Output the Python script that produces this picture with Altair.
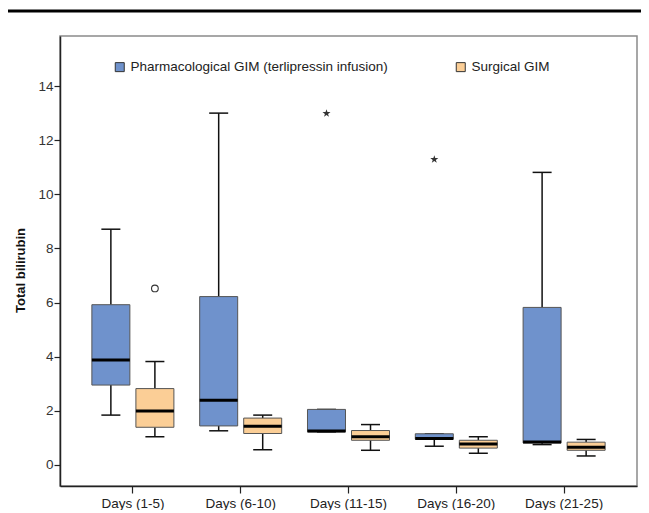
import altair as alt
import pandas as pd

days = ["Days (1-5)", "Days (6-10)", "Days (11-15)", "Days (16-20)", "Days (21-25)"]
groups = ["Pharmacological GIM (terlipressin infusion)", "Surgical GIM"]
colors = ["#6F92CC", "#FBCE96"]

pharm_low = [1.84, 1.26, 1.22, 0.69, 0.75]
pharm_q1 = [2.95, 1.44, 1.22, 0.95, 0.81]
pharm_med = [3.88, 2.39, 1.25, 0.98, 0.85]
pharm_q3 = [5.92, 6.22, 2.05, 1.15, 5.82]
pharm_high = [8.71, 13.0, 2.05, 1.15, 10.81]

surg_low = [1.04, 0.56, 0.54, 0.43, 0.33]
surg_q1 = [1.39, 1.16, 0.91, 0.62, 0.54]
surg_med = [1.99, 1.43, 1.04, 0.77, 0.65]
surg_q3 = [2.82, 1.73, 1.27, 0.91, 0.84]
surg_high = [3.82, 1.84, 1.49, 1.04, 0.94]

outlier_day = ["Days (1-5)"]
outlier_group = [groups[1]]
outlier_value = [6.52]

extreme_day = ["Days (11-15)", "Days (16-20)"]
extreme_group = [groups[0], groups[0]]
extreme_value = [12.99, 11.29]

y_ticks = [0, 2, 4, 6, 8, 10, 12, 14]

rows = []
for g, lo, a, m, b, hi in [
    (groups[0], pharm_low, pharm_q1, pharm_med, pharm_q3, pharm_high),
    (groups[1], surg_low, surg_q1, surg_med, surg_q3, surg_high),
]:
    for i, d in enumerate(days):
        rows.append({"day": d, "group": g, "low": lo[i], "q1": a[i],
                     "med": m[i], "q3": b[i], "high": hi[i]})
df = pd.DataFrame(rows)
out_df = pd.DataFrame({"day": outlier_day, "group": outlier_group, "value": outlier_value})
ext_df = pd.DataFrame({"day": extreme_day, "group": extreme_group, "value": extreme_value})

FONT = "Liberation Sans"

xscale = alt.Scale(domain=days, paddingInner=0.1, paddingOuter=0.226)
offscale = alt.Scale(domain=groups, paddingInner=0, paddingOuter=0.102)
yscale = alt.Scale(domain=[-0.78, 15.85], nice=False, zero=False)

xaxis = alt.Axis(title=None, tickSize=7, labelPadding=3, labelFontSize=13.5,
                 labelColor="#222", labelFont=FONT, domainColor="#222",
                 domainWidth=1.5, tickColor="#222", tickWidth=1.2, grid=False,
                 labelAngle=0)
yaxis = alt.Axis(title="Total bilirubin", values=y_ticks, tickSize=6, labelPadding=1,
                 labelFontSize=13.5, labelColor="#333", labelFont=FONT,
                 domainColor="#222", domainWidth=1.5, tickColor="#222", tickWidth=1.2,
                 grid=False, titleFont=FONT, titleFontSize=13, titleFontWeight="bold",
                 titleColor="#111", titleX=-40, titleY=234, titleBaseline="middle",
                 titleAngle=270)

X = alt.X("day:N", sort=days, scale=xscale, axis=xaxis)
XO = alt.XOffset("group:N", sort=groups, scale=offscale)

base = alt.Chart(df).encode(x=X, xOffset=XO)

whisk_lo = base.mark_rule(color="#111", strokeWidth=1.5, opacity=1).encode(
    y=alt.Y("low:Q", scale=yscale, axis=yaxis), y2="q1:Q")
whisk_hi = base.mark_rule(color="#111", strokeWidth=1.5, opacity=1).encode(
    y="q3:Q", y2="high:Q")
cap_lo = base.mark_tick(color="#111", size=19, thickness=1.5, opacity=1).encode(y="low:Q")
cap_hi = base.mark_tick(color="#111", size=19, thickness=1.5, opacity=1).encode(y="high:Q")

legend = alt.Legend(title=None, orient="none", legendX=53, legendY=24,
                    direction="horizontal", symbolType="square", symbolSize=81,
                    symbolStrokeColor="#333", symbolStrokeWidth=1, symbolOpacity=1,
                    labelFontSize=13.5, labelColor="#222", labelFont=FONT,
                    labelLimit=1000, columnPadding=66, labelOffset=4)

box = base.mark_bar(size=38, stroke="#555", strokeWidth=1, opacity=1).encode(
    y="q1:Q", y2="q3:Q",
    fill=alt.Fill("group:N", sort=groups,
                  scale=alt.Scale(domain=groups, range=colors), legend=legend))
med = base.mark_tick(color="#000", size=38, thickness=3, opacity=1).encode(y="med:Q")

circ = alt.Chart(out_df).mark_point(shape="circle", filled=False, size=45,
                                    color="#333", strokeWidth=1.1, opacity=1).encode(
    x=X, xOffset=XO, y="value:Q")

star_path = ("M0,-1L0.2245,-0.309L0.951,-0.309L0.363,0.118L0.588,0.809L0,0.382"
             "L-0.588,0.809L-0.363,0.118L-0.951,-0.309L-0.2245,-0.309Z")
stars = alt.Chart(ext_df).mark_point(shape=star_path, filled=True, size=72,
                                     color="#333", opacity=1).encode(
    x=X, xOffset=XO, y="value:Q")

topline = alt.Chart(pd.DataFrame({"a": [0]})).mark_rule(
    color="#000", strokeWidth=3, clip=False).encode(
    x=alt.value(-54), x2=alt.value(585), y=alt.value(-25))

chart = alt.layer(whisk_lo, whisk_hi, cap_lo, cap_hi, box, med, circ, stars, topline).properties(
    width=577, height=450,
    autosize=alt.AutoSizeParams(type="none"),
    padding={"left": 52, "top": 28, "right": 4, "bottom": 24},
    background="white",
).configure_view(stroke="#8a8a8a", strokeWidth=1.5)

chart.save("out.html", embed_options={"renderer": "svg", "actions": False})
